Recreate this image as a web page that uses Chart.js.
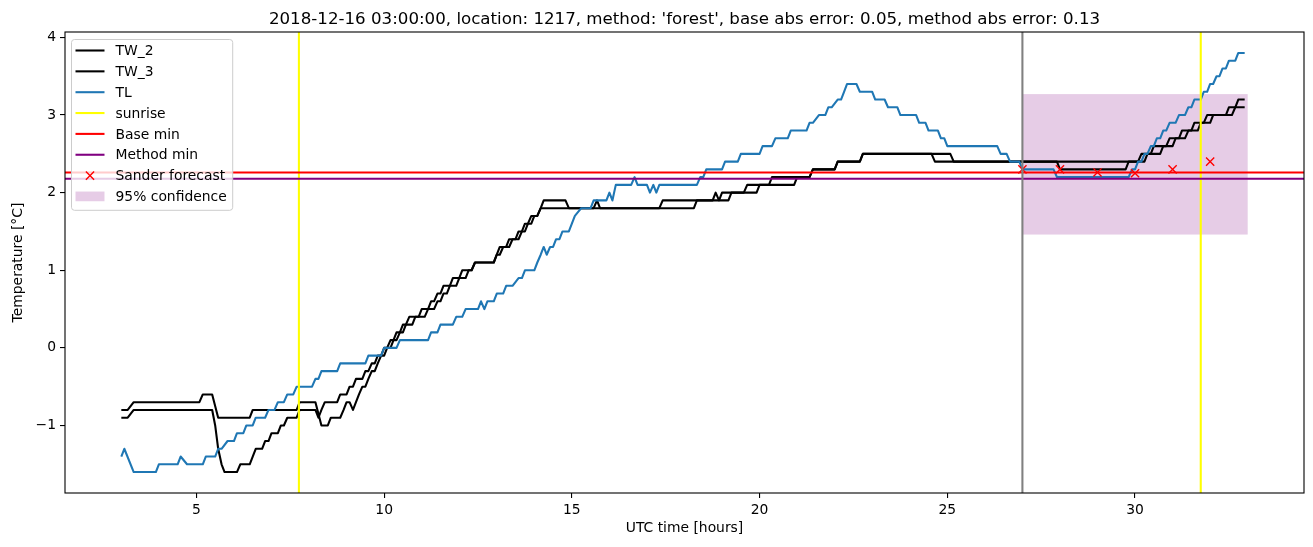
<!doctype html>
<html lang="en">
<head>
<meta charset="utf-8">
<title>Temperature forecast, location 1217</title>
<script src="https://cdn.jsdelivr.net/npm/chart.js"></script>
<style>
  html, body { margin: 0; padding: 0; background: #fff; }
  .chart-box { width: 1313px; height: 547px; }
</style>
</head>
<body>
<div class="chart-box"><canvas id="tempChart" width="1313" height="547"></canvas></div>
<script>
// series: [UTC hour, temperature]
const tw2Series = [[3.0,-0.8],[3.17,-0.8],[3.33,-0.7],[5.08,-0.7],[5.17,-0.6],[5.42,-0.6],[5.58,-0.9],[6.42,-0.9],[6.5,-0.8],[7.67,-0.8],
  [7.75,-0.7],[8.17,-0.7],[8.33,-1.0],[8.5,-1.0],[8.58,-0.9],[8.83,-0.9],[8.92,-0.8],[9.0,-0.7],[9.08,-0.7],[9.17,-0.8],
  [9.25,-0.7],[9.33,-0.6],[9.42,-0.5],[9.5,-0.5],[9.58,-0.4],[9.67,-0.3],[9.75,-0.3],[9.83,-0.2],[9.92,-0.1],[10.0,-0.1],
  [10.08,0.0],[10.17,0.0],[10.25,0.1],[10.33,0.1],[10.42,0.2],[10.5,0.2],[10.58,0.3],[10.75,0.3],[10.83,0.4],[11.08,0.4],
  [11.17,0.5],[11.33,0.5],[11.42,0.6],[11.5,0.6],[11.58,0.7],[11.67,0.7],[11.75,0.8],[11.92,0.8],[12.0,0.9],[12.17,0.9],
  [12.25,1.0],[12.33,1.0],[12.42,1.1],[12.92,1.1],[13.0,1.2],[13.08,1.2],[13.17,1.3],[13.33,1.3],[13.42,1.4],[13.58,1.4],
  [13.67,1.5],[13.75,1.5],[13.83,1.6],[13.92,1.6],[14.0,1.7],[14.08,1.7],[14.17,1.8],[14.25,1.9],[14.83,1.9],[14.92,1.8],
  [17.33,1.8],[17.42,1.9],[18.75,1.9],[18.83,2.0],[18.92,1.9],[19.0,2.0],[19.58,2.0],[19.67,2.1],[20.25,2.1],[20.33,2.2],
  [21.33,2.2],[21.42,2.3],[22.0,2.3],[22.08,2.4],[22.67,2.4],[22.75,2.5],[24.58,2.5],[24.67,2.4],[30.08,2.4],[30.17,2.5],
  [30.42,2.5],[30.5,2.6],[30.83,2.6],[30.92,2.7],[31.17,2.7],[31.25,2.8],[31.5,2.8],[31.58,2.9],[31.83,2.9],[31.92,3.0],
  [32.42,3.0],[32.5,3.1],[32.67,3.1],[32.75,3.2],[32.92,3.2]];

const tw3Series = [[3.0,-0.9],[3.17,-0.9],[3.33,-0.8],[5.42,-0.8],[5.5,-1.0],[5.58,-1.3],[5.67,-1.5],[5.75,-1.6],[6.08,-1.6],[6.17,-1.5],
  [6.42,-1.5],[6.5,-1.4],[6.58,-1.3],[6.75,-1.3],[6.83,-1.2],[6.92,-1.2],[7.0,-1.1],[7.17,-1.1],[7.25,-1.0],[7.33,-1.0],
  [7.42,-0.9],[7.67,-0.9],[7.75,-0.8],[8.17,-0.8],[8.25,-0.9],[8.33,-0.8],[8.42,-0.7],[8.75,-0.7],[8.83,-0.6],[9.0,-0.6],
  [9.08,-0.5],[9.17,-0.5],[9.25,-0.4],[9.42,-0.4],[9.5,-0.3],[9.58,-0.3],[9.67,-0.2],[9.75,-0.2],[9.83,-0.1],[9.92,-0.1],
  [10.0,0.0],[10.08,0.0],[10.17,0.1],[10.25,0.1],[10.33,0.2],[10.42,0.2],[10.5,0.3],[10.58,0.3],[10.67,0.4],[10.92,0.4],
  [11.0,0.5],[11.17,0.5],[11.25,0.6],[11.33,0.6],[11.42,0.7],[11.5,0.7],[11.58,0.8],[11.75,0.8],[11.83,0.9],[12.0,0.9],
  [12.08,1.0],[12.33,1.0],[12.42,1.1],[12.92,1.1],[13.0,1.2],[13.08,1.3],[13.25,1.3],[13.33,1.4],[13.5,1.4],[13.58,1.5],
  [13.67,1.5],[13.75,1.6],[13.83,1.6],[13.92,1.7],[14.08,1.7],[14.17,1.8],[15.58,1.8],[15.67,1.9],[15.75,1.8],[18.25,1.8],
  [18.33,1.9],[19.17,1.9],[19.25,2.0],[19.92,2.0],[20.0,2.1],[20.92,2.1],[21.0,2.2],[21.33,2.2],[21.42,2.3],[22.0,2.3],
  [22.08,2.4],[22.67,2.4],[22.75,2.5],[25.08,2.5],[25.17,2.4],[27.92,2.4],[28.0,2.3],[29.75,2.3],[29.83,2.4],[30.25,2.4],
  [30.33,2.5],[30.67,2.5],[30.75,2.6],[31.0,2.6],[31.08,2.7],[31.33,2.7],[31.42,2.8],[31.67,2.8],[31.75,2.9],[32.0,2.9],
  [32.08,3.0],[32.58,3.0],[32.67,3.1],[32.92,3.1]];

const tlSeries = [[3.0,-1.4],[3.08,-1.3],[3.33,-1.6],[3.92,-1.6],[4.0,-1.5],[4.5,-1.5],[4.58,-1.4],[4.75,-1.5],[5.17,-1.5],[5.25,-1.4],
  [5.5,-1.4],[5.58,-1.3],[5.67,-1.3],[5.83,-1.2],[6.0,-1.2],[6.08,-1.1],[6.25,-1.1],[6.33,-1.0],[6.5,-1.0],[6.58,-0.9],
  [6.83,-0.9],[6.92,-0.8],[7.08,-0.8],[7.17,-0.7],[7.33,-0.7],[7.42,-0.6],[7.58,-0.6],[7.67,-0.5],[8.08,-0.5],[8.17,-0.4],
  [8.25,-0.4],[8.33,-0.3],[8.75,-0.3],[8.83,-0.2],[9.5,-0.2],[9.58,-0.1],[9.92,-0.1],[10.0,0.0],[10.33,0.0],[10.42,0.1],
  [11.17,0.1],[11.25,0.2],[11.42,0.2],[11.5,0.3],[11.83,0.3],[11.92,0.4],[12.08,0.4],[12.17,0.5],[12.5,0.5],[12.58,0.6],
  [12.67,0.5],[12.75,0.6],[12.92,0.6],[13.0,0.7],[13.17,0.7],[13.25,0.8],[13.42,0.8],[13.58,0.9],[13.67,0.9],[13.75,1.0],
  [14.0,1.0],[14.08,1.1],[14.17,1.2],[14.25,1.3],[14.33,1.2],[14.42,1.3],[14.5,1.3],[14.58,1.4],[14.67,1.4],[14.75,1.5],
  [14.92,1.5],[15.0,1.6],[15.08,1.7],[15.25,1.8],[15.5,1.8],[15.58,1.9],[15.92,1.9],[16.0,2.0],[16.08,1.9],[16.17,2.1],
  [16.58,2.1],[16.67,2.2],[16.75,2.1],[17.0,2.1],[17.08,2.0],[17.17,2.1],[17.25,2.0],[17.33,2.1],[18.33,2.1],[18.42,2.2],
  [18.5,2.2],[18.58,2.3],[19.0,2.3],[19.08,2.4],[19.42,2.4],[19.5,2.5],[20.0,2.5],[20.08,2.6],[20.33,2.6],[20.42,2.7],
  [20.75,2.7],[20.83,2.8],[21.25,2.8],[21.33,2.9],[21.42,2.9],[21.58,3.0],[21.75,3.0],[21.83,3.1],[21.92,3.1],[22.08,3.2],
  [22.17,3.2],[22.25,3.3],[22.33,3.4],[22.58,3.4],[22.67,3.3],[23.0,3.3],[23.08,3.2],[23.33,3.2],[23.42,3.1],[23.67,3.1],
  [23.75,3.0],[24.17,3.0],[24.25,2.9],[24.42,2.9],[24.5,2.8],[24.75,2.8],[24.83,2.7],[24.92,2.7],[25.0,2.6],[26.33,2.6],
  [26.42,2.5],[26.58,2.5],[26.67,2.4],[26.92,2.4],[27.0,2.3],[27.83,2.3],[27.92,2.2],[29.83,2.2],[29.92,2.3],[30.0,2.3],
  [30.08,2.4],[30.17,2.4],[30.25,2.5],[30.33,2.5],[30.42,2.6],[30.5,2.6],[30.58,2.7],[30.67,2.7],[30.75,2.8],[30.83,2.8],
  [30.92,2.9],[31.08,2.9],[31.17,3.0],[31.33,3.0],[31.42,3.1],[31.5,3.1],[31.58,3.2],[31.75,3.2],[31.83,3.3],[31.92,3.3],
  [32.0,3.4],[32.08,3.4],[32.17,3.5],[32.25,3.5],[32.33,3.6],[32.42,3.6],[32.5,3.7],[32.67,3.7],[32.75,3.8],[32.92,3.8]];

const forecastHours = [27, 28, 29, 30, 31, 32];
const sanderForecast = [2.3, 2.3, 2.26, 2.25, 2.3, 2.4];
const sunriseHours = [7.73, 31.75];
const forecastStart = 27;
const baseMin = 2.26;
const methodMin = 2.18;
const confidenceHours = [27, 33];
const confidenceTemp = [1.46, 3.27];
const xTicks = [5, 10, 15, 20, 25, 30];
const yTicks = [-1, 0, 1, 2, 3, 4];

const FONT = 'DejaVu Sans';
const LW = 2.08;       // 1.5pt at 100 dpi
const FS = 13.89;      // 10pt
const toPoints = s => s.map(p => ({ x: p[0], y: p[1] }));
const minus = v => String(v).replace('-', '\u2212');

// matplotlib-ish extras: band, axhline/axvline, frame, title, legend
const mplExtras = {
  id: 'mplExtras',
  beforeDatasetsDraw(chart) {
    const { ctx, scales: { x, y } } = chart;
    const x0 = x.getPixelForValue(confidenceHours[0]), x1 = x.getPixelForValue(confidenceHours[1]);
    const y0 = y.getPixelForValue(confidenceTemp[1]), y1 = y.getPixelForValue(confidenceTemp[0]);
    ctx.save();
    ctx.fillStyle = 'rgba(128,0,128,0.2)';
    ctx.fillRect(x0, y0, x1 - x0, y1 - y0);
    ctx.restore();
  },
  afterDatasetDraw(chart, args) {
    if (args.index !== 2) return; // after TL, before the forecast markers
    const { ctx, chartArea: a, scales: { x, y } } = chart;
    ctx.save();
    ctx.lineWidth = LW;
    sunriseHours.forEach(h => {
      const px = x.getPixelForValue(h);
      ctx.strokeStyle = '#ffff00';
      ctx.beginPath(); ctx.moveTo(px, a.top); ctx.lineTo(px, a.bottom); ctx.stroke();
    });
    [[baseMin, '#ff0000'], [methodMin, '#800080']].forEach(([v, c]) => {
      const py = y.getPixelForValue(v);
      ctx.strokeStyle = c;
      ctx.beginPath(); ctx.moveTo(a.left, py); ctx.lineTo(a.right, py); ctx.stroke();
    });
    ctx.restore();
  },
  afterDatasetsDraw(chart) {
    const { ctx, chartArea: a, scales: { x } } = chart;
    ctx.save();
    const px = x.getPixelForValue(forecastStart);
    ctx.strokeStyle = '#808080';
    ctx.lineWidth = LW;
    ctx.beginPath(); ctx.moveTo(px, a.top); ctx.lineTo(px, a.bottom); ctx.stroke();
    ctx.strokeStyle = '#000';
    ctx.lineWidth = 1.1;
    ctx.strokeRect(a.left, a.top, a.right - a.left, a.bottom - a.top);
    ctx.restore();
  },
  afterDraw(chart) {
    const { ctx, chartArea: a } = chart;
    ctx.save();
    ctx.fillStyle = '#000';
    ctx.font = '16.67px "' + FONT + '"';
    ctx.textAlign = 'center';
    ctx.textBaseline = 'alphabetic';
    ctx.fillText("2018-12-16 03:00:00, location: 1217, method: 'forest', base abs error: 0.05, method abs error: 0.13",
      (a.left + a.right) / 2, a.top - 8);

    const items = [
      ['TW_2', 'line', '#000000'], ['TW_3', 'line', '#000000'], ['TL', 'line', '#1f77b4'],
      ['sunrise', 'line', '#ffff00'], ['Base min', 'line', '#ff0000'], ['Method min', 'line', '#800080'],
      ['Sander forecast', 'cross', '#ff0000'], ['95% confidence', 'patch', 'rgba(128,0,128,0.2)']
    ];
    ctx.font = FS + 'px "' + FONT + '"';
    const bx = a.left + 6.5, by = a.top + 7.5, rowH = 20.85;
    const textX = bx + 44;
    const maxW = Math.max(...items.map(i => ctx.measureText(i[0]).width));
    const bw = textX - bx + maxW + 6, bh = rowH * items.length + 4;
    ctx.beginPath();
    ctx.roundRect(bx, by, bw, bh, 3);
    ctx.fillStyle = 'rgba(255,255,255,0.8)';
    ctx.fill();
    ctx.strokeStyle = '#cccccc';
    ctx.lineWidth = 1;
    ctx.stroke();
    items.forEach(([label, kind, color], k) => {
      const cy = by + 11 + k * rowH;
      const hx0 = bx + 4, hx1 = bx + 33;
      if (kind === 'line') {
        ctx.strokeStyle = color; ctx.lineWidth = LW;
        ctx.beginPath(); ctx.moveTo(hx0, cy); ctx.lineTo(hx1, cy); ctx.stroke();
      } else if (kind === 'cross') {
        const cx = (hx0 + hx1) / 2, r = 4.1;
        ctx.strokeStyle = color; ctx.lineWidth = 1.39;
        ctx.beginPath();
        ctx.moveTo(cx - r, cy - r); ctx.lineTo(cx + r, cy + r);
        ctx.moveTo(cx - r, cy + r); ctx.lineTo(cx + r, cy - r);
        ctx.stroke();
      } else {
        ctx.fillStyle = color;
        ctx.fillRect(hx0, cy - 4.9, hx1 - hx0, 9.7);
      }
      ctx.fillStyle = '#000';
      ctx.textAlign = 'left';
      ctx.textBaseline = 'middle';
      ctx.fillText(label, textX, cy + 1);
    });
    ctx.restore();
  }
};

Chart.defaults.font.family = FONT;
Chart.defaults.color = '#000';

new Chart(document.getElementById('tempChart'), {
  type: 'scatter',
  data: {
    datasets: [
      { label: 'TW_2', data: toPoints(tw2Series), showLine: true, borderColor: '#000000', borderWidth: LW, pointRadius: 0, order: 5 },
      { label: 'TW_3', data: toPoints(tw3Series), showLine: true, borderColor: '#000000', borderWidth: LW, pointRadius: 0, order: 4 },
      { label: 'TL', data: toPoints(tlSeries), showLine: true, borderColor: '#1f77b4', borderWidth: LW, pointRadius: 0, order: 3 },
      { label: 'Sander forecast', data: forecastHours.map((h, i) => ({ x: h, y: sanderForecast[i] })), showLine: false,
        pointStyle: 'crossRot', pointRadius: 5.8, borderColor: '#ff0000', backgroundColor: '#ff0000', borderWidth: 1.39, order: 0 }
    ]
  },
  options: {
    responsive: false,
    animation: false,
    layout: { padding: { top: 32, right: 9, left: 0, bottom: 0 } },
    elements: { line: { borderJoinStyle: 'round', tension: 0 } },
    plugins: { legend: { display: false }, tooltip: { enabled: false }, title: { display: false } },
    scales: {
      x: {
        type: 'linear', min: 1.5, max: 34.5,
        afterBuildTicks: s => { s.ticks = xTicks.map(v => ({ value: v })); },
        afterFit: s => { s.height = 54; },
        ticks: { font: { size: FS }, color: '#000', padding: 4, maxRotation: 0 },
        grid: { drawOnChartArea: false, drawTicks: true, tickLength: 5, tickColor: '#000', lineWidth: 1.1 },
        border: { display: false },
        title: { display: true, text: 'UTC time [hours]', font: { size: FS }, color: '#000', padding: { top: 0, bottom: 10 } }
      },
      y: {
        type: 'linear', min: -1.87, max: 4.07,
        afterBuildTicks: s => { s.ticks = yTicks.map(v => ({ value: v })); },
        afterFit: s => { s.width = 65; },
        ticks: { font: { size: FS }, color: '#000', padding: 4, callback: v => minus(v) },
        grid: { drawOnChartArea: false, drawTicks: true, tickLength: 5, tickColor: '#000', lineWidth: 1.1 },
        border: { display: false },
        title: { display: true, text: 'Temperature [\u00b0C]', font: { size: FS }, color: '#000', padding: { top: 10, bottom: 0 } }
      }
    }
  },
  plugins: [mplExtras]
});
</script>
</body>
</html>
